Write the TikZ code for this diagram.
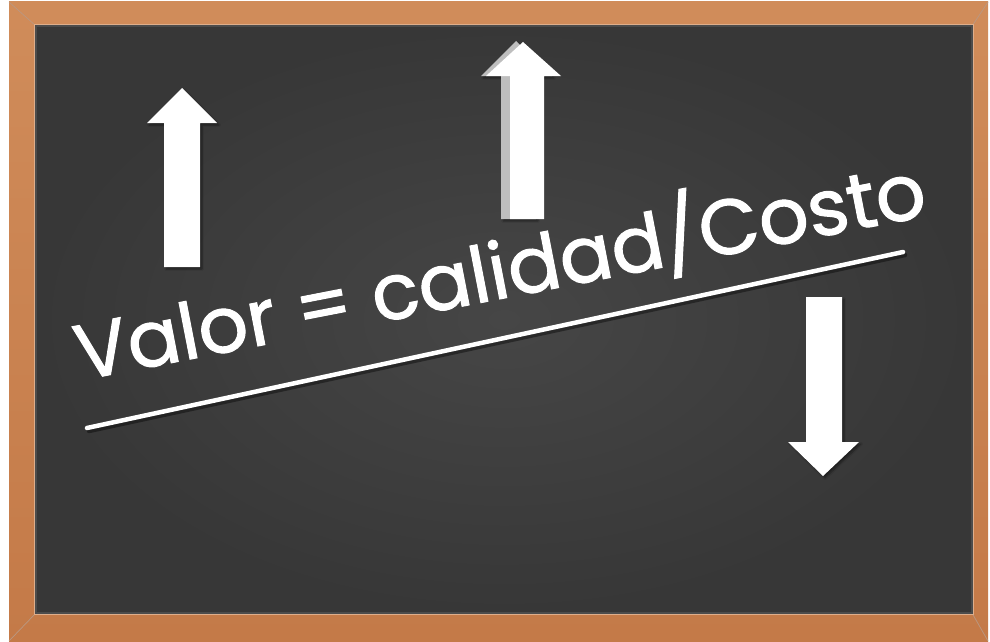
\documentclass[tikz,border=0pt]{standalone}
\usepackage{fontspec}
\newfontfamily\chalkfont{Poppins}[FakeBold=1.3]
\usetikzlibrary{shadows,shadows.blur}
\definecolor{wood}{RGB}{196,122,72}
\definecolor{woodlight}{RGB}{208,140,90}
\definecolor{wooddark}{RGB}{140,84,46}
\definecolor{boardin}{RGB}{70,70,70}
\definecolor{boardout}{RGB}{55,55,55}
\definecolor{ghost}{RGB}{190,190,190}
\tikzset{
  arrowshape/.style={fill=white, blur shadow={shadow xshift=2pt, shadow yshift=-2pt, shadow opacity=45, shadow blur steps=6}},
  chalk/.style={white, line width=4.5pt, line cap=round},
  chalktext/.style={text=white, font=\chalkfont\fontsize{78}{86}\selectfont, inner sep=0pt}
}
\begin{document}
\begin{tikzpicture}[x=1pt,y=-1pt]
\useasboundingbox (0,0) rectangle (990,642);
\fill[white] (0,0) rectangle (990,642);
% wooden frame
\shade[top color=woodlight, bottom color=wood] (9,2) rectangle (988,641);
\draw[wooddark!60, line width=0.7pt] (9,2) -- (36,26) (988,2) -- (972,26) (9,641) -- (36,613) (988,641) -- (972,613);
% board
\shade[inner color=boardin, outer color=boardout] (36,26) rectangle (972,613);
\draw[black!70, line width=2pt] (36,26) rectangle (972,613);
\draw[woodlight!70!white, line width=0.8pt] (34.5,24.5) rectangle (973.5,614.5);
% left up arrow
\fill[arrowshape] (182,88) -- (217,123) -- (200,123) -- (200,267) -- (164,267) -- (164,123) -- (147,123) -- cycle;
% middle up arrow (ghost copy behind)
\fill[ghost, blur shadow={shadow xshift=2pt, shadow yshift=-2pt, shadow opacity=45}] (516,41) -- (552,76) -- (536,76) -- (536,219) -- (501,219) -- (501,76) -- (481,76) -- cycle;
\fill[white] (523,42) -- (561,76) -- (544,76) -- (544,219) -- (510,219) -- (510,76) -- (486,76) -- cycle;
% down arrow
\fill[arrowshape] (806,297) -- (842,297) -- (842,442) -- (859,442) -- (823,476) -- (788,442) -- (806,442) -- cycle;
% formula
\node[chalktext, rotate=11, anchor=base] (t) at (505,298) {Valor = calidad/Costo};
% underline
\coordinate (u1) at (87,428);
\coordinate (u2) at (903,252);
\draw[black, opacity=0.4, line width=4.5pt, line cap=round] ([shift={(2,3)}]u1) -- ([shift={(2,3)}]u2);
\draw[chalk] (u1) -- (u2);
\end{tikzpicture}
\end{document}
